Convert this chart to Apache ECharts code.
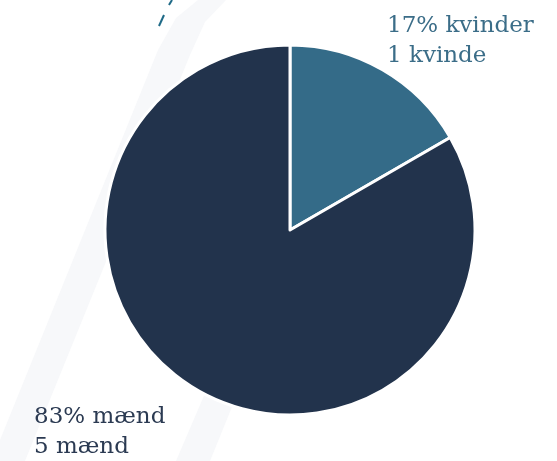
<!DOCTYPE html>
<html>
<head>
<meta charset="utf-8">
<script src="https://cdn.jsdelivr.net/npm/echarts@6/dist/echarts.min.js"></script>
<style>html,body{margin:0;padding:0;background:#fff;}#c{width:557px;height:461px;}</style>
</head>
<body>
<div id="c"></div>
<script>
const categories = ['kvinder', 'mænd'];
const counts = [1, 5];
const countWords = ['kvinde', 'mænd'];
const sliceColors = ['#346b88', '#22334c'];
const labelColors = ['#3b6d88', '#2b3a52'];

const chart = echarts.init(document.getElementById('c'));
chart.setOption({
  backgroundColor: '#ffffff',
  animation: false,
  graphic: [
    { type: 'polygon', silent: true, z: 0,
      shape: { points: [[198,0],[226,0],[205,22],[190,55],[25,461],[0,461],[0,440],[158,50],[176,18]] },
      style: { fill: '#f7f8fa' } },
    { type: 'polygon', silent: true, z: 0,
      shape: { points: [[215,370],[247,370],[210,461],[176,461]] },
      style: { fill: '#f7f8fa' } },
    { type: 'line', silent: true, z: 1, shape: { x1: 169, y1: 5, x2: 172, y2: 0 },
      style: { stroke: '#1f6a87', lineWidth: 2 } },
    { type: 'line', silent: true, z: 1, shape: { x1: 159, y1: 26, x2: 164, y2: 15 },
      style: { stroke: '#1f6a87', lineWidth: 2 } }
  ],
  series: [{
    type: 'pie',
    center: [290, 230],
    radius: [0, 185],
    startAngle: 90,
    clockwise: true,
    percentPrecision: 0,
    itemStyle: { borderColor: '#ffffff', borderWidth: 3 },
    label: {
      show: true,
      position: 'outside',
      alignTo: 'none',
      overflow: 'none',
      fontFamily: 'DejaVu Serif',
      fontSize: 23,
      lineHeight: 30,
      formatter: function (p) {
        return p.percent + '% ' + p.name + '\n' + p.value + ' ' + countWords[p.dataIndex];
      }
    },
    labelLine: { show: false },
    labelLayout: function (p) {
      if (p.dataIndex === 0) return { x: 387, y: 11, align: 'left', verticalAlign: 'top' };
      return { x: 34, y: 402, align: 'left', verticalAlign: 'top' };
    },
    data: categories.map(function (c, i) {
      return {
        name: c,
        value: counts[i],
        itemStyle: { color: sliceColors[i] },
        label: { color: labelColors[i] }
      };
    })
  }]
});
</script>
</body>
</html>
